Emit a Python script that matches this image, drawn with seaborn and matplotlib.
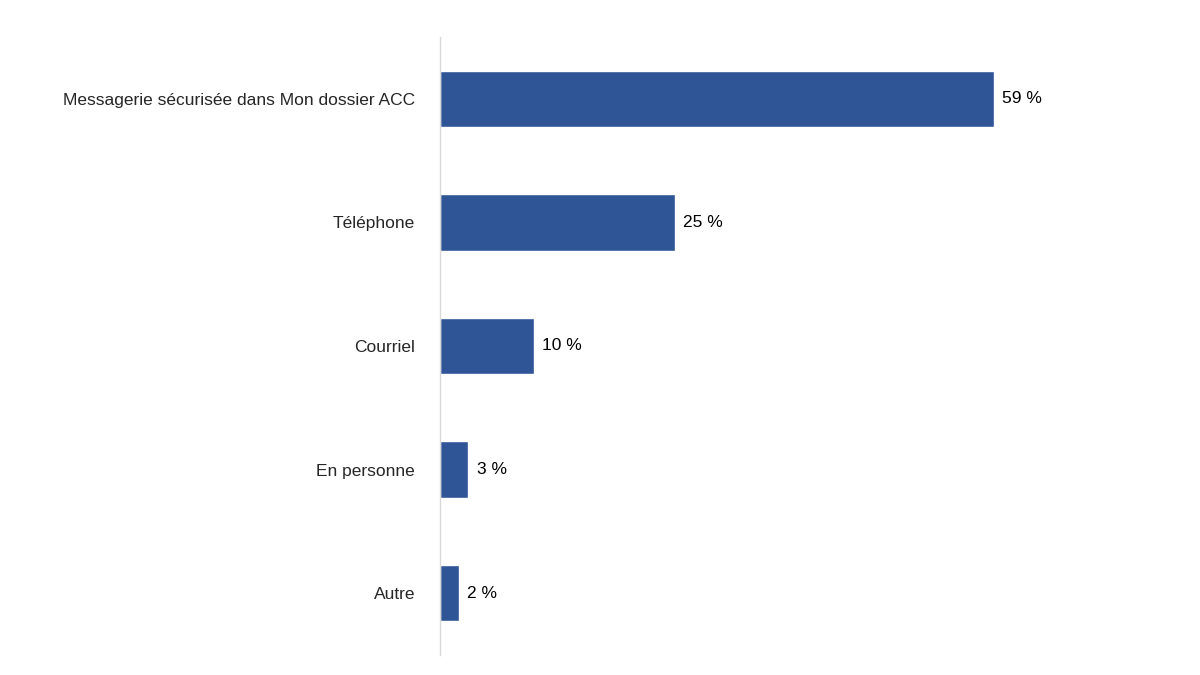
import matplotlib
matplotlib.use("Agg")
import matplotlib.pyplot as plt
import seaborn as sns
import pandas as pd

categories = ["Messagerie sécurisée dans Mon dossier ACC", "Téléphone", "Courriel", "En personne", "Autre"]
values = [59, 25, 10, 3, 2]
labels = ["59 %", "25 %", "10 %", "3 %", "2 %"]

sns.set_style("white")
plt.rcParams['font.family'] = ['Liberation Sans', 'DejaVu Sans']

df = pd.DataFrame({"cat": categories, "val": values})
fig = plt.figure(figsize=(12, 6.75), dpi=100)
ax = fig.add_axes([440/1200, 20/675, 720/1200, 618/675])
sns.barplot(data=df, x="val", y="cat", color="#2F5597", width=0.455, ax=ax, saturation=1)
ax.set_xlim(0, 720/9.39)
ax.set_ylim(4.5, -0.5)
for i, (v, l) in enumerate(zip(values, labels)):
    ax.text(v + 0.9, i, l, va="center", ha="left", fontsize=12.5, color="black")
ax.set_xlabel("")
ax.set_ylabel("")
ax.set_xticks([])
ax.tick_params(axis="y", length=0, pad=18, labelsize=12.5)
for s in ["top", "right", "bottom"]:
    ax.spines[s].set_visible(False)
ax.spines["left"].set_color("#D9D9D9")
ax.spines["left"].set_linewidth(1)
fig.savefig("out.png", dpi=100)
